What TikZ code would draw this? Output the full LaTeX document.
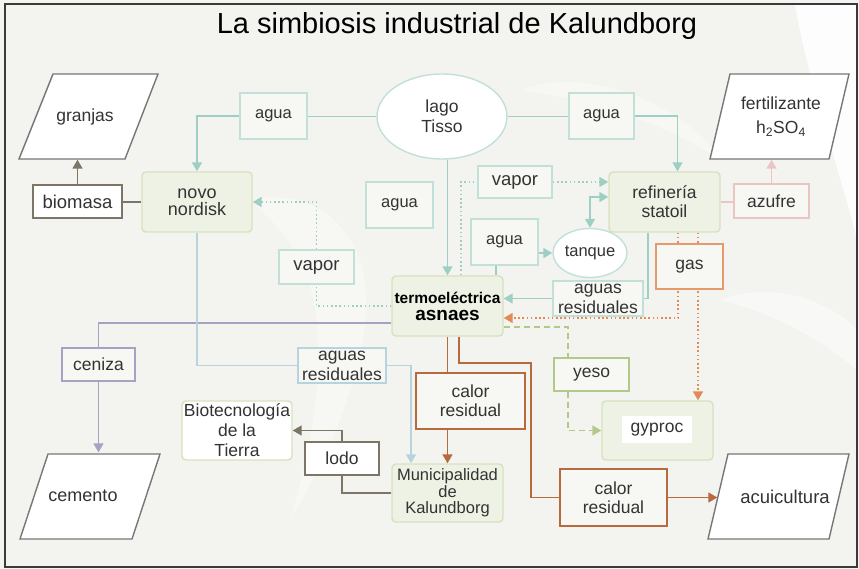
\documentclass[tikz,border=0pt]{standalone}
\usepackage{fontspec}
\setmainfont{Liberation Sans}
\usetikzlibrary{arrows.meta,shapes.geometric,calc}
\pgfdeclarelayer{back}
\pgfdeclarelayer{conn}
\pgfsetlayers{back,conn,main}
\definecolor{bgc}{HTML}{F3F4EF}
\definecolor{txt}{HTML}{333333}
\definecolor{tealln}{HTML}{9FCEC5}
\definecolor{tealbd}{HTML}{C3DFDA}
\definecolor{boxfill}{HTML}{F7F8F4}
\definecolor{greenbd}{HTML}{D6E2BE}
\definecolor{greenfill}{HTML}{EEF2E4}
\definecolor{brownln}{HTML}{B9693F}
\definecolor{orangeln}{HTML}{E38B55}
\definecolor{gasbd}{HTML}{E49A6C}
\definecolor{dkln}{HTML}{7D7566}
\definecolor{lavln}{HTML}{A3A3C2}
\definecolor{lblue}{HTML}{B6D3DE}
\definecolor{pinkln}{HTML}{E9C6C3}
\definecolor{yesoln}{HTML}{B3C98A}
\definecolor{parabd}{HTML}{777777}
\definecolor{framec}{HTML}{3A3A3A}
\begin{document}
\begin{tikzpicture}[x=1pt,y=-1pt,
  base/.style={inner sep=0pt, align=center, text=txt, line width=1.4pt,
    font=\fontsize{17.5}{19}\selectfont},
  tbox/.style={base, draw=tealbd, fill=boxfill},
  gbox/.style={base, draw=greenbd, fill=greenfill, rounded corners=4pt},
  cbox/.style={base, draw=brownln, fill=boxfill, line width=1.8pt},
  dbox/.style={base, draw=dkln, fill=white},
  ptext/.style={base},
  tip/.style={-{Triangle[length=9pt,width=10pt]}},
  conn/.style={line width=1.6pt},
  dotl/.style={conn, dash pattern=on 1.6pt off 2.6pt},
  para/.style={draw=parabd, fill=white, line width=1.4pt},
  fsa/.style={font=\fontsize{17.5}{16.5}\selectfont},
  fsb/.style={font=\fontsize{17.5}{20}\selectfont},
]
% background and frame
\begin{pgfonlayer}{back}
\fill[bgc] (0,0) rectangle (859,569);
\fill[white,opacity=0.9] (795,5) -- (857,5) -- (857,240) .. controls (840,170) and (810,90) .. (795,5) -- cycle;
\fill[white,opacity=0.35] (250,200) .. controls (300,190) and (340,210) .. (360,260) .. controls (380,320) and (350,420) .. (290,520) .. controls (320,420) and (330,320) .. (300,260) .. controls (285,230) and (265,215) .. (250,200) -- cycle;
\fill[white,opacity=0.35] (520,90) .. controls (600,60) and (700,120) .. (720,160) .. controls (660,120) and (590,100) .. (520,90) -- cycle;
\fill[white,opacity=0.45] (720,300) .. controls (770,280) and (830,300) .. (857,330) -- (857,370) .. controls (810,330) and (760,310) .. (720,300) -- cycle;
\end{pgfonlayer}
\draw[framec, line width=1.6pt] (5,4) rectangle (857,567);

% title
\node[anchor=base, text=black, font=\fontsize{29}{29}\selectfont] (title) at (457,34) {La simbiosis industrial de Kalundborg};

% parallelograms
\draw[para] (19,159) -- (53,74) -- (158,74) -- (125,159) -- cycle;
\draw[para] (710,159) -- (730,74) -- (849,74) -- (829,159) -- cycle;
\draw[para] (20,539) -- (48,454) -- (160,454) -- (132,539) -- cycle;
\draw[para] (708,539) -- (728,454) -- (849,454) -- (829,539) -- cycle;
\node[ptext, minimum width=70, minimum height=85] (granjas) at (85,116.5) {granjas};
\node[ptext, minimum width=90, minimum height=85, font=\fontsize{17.5}{24}\selectfont] (fert) at (781,116.5) {fertilizante\\h\textsubscript{2}SO\textsubscript{4}};
\node[ptext, minimum width=80, minimum height=85, font=\fontsize{18}{19}\selectfont] (cemento) at (83,495.5) {cemento};
\node[ptext, minimum width=134, minimum height=85, font=\fontsize{18.5}{19}\selectfont] (acui) at (785,496.5) {acuicultura};

% boxes
\node[tbox, minimum width=67, minimum height=46, font=\fontsize{16.5}{19}\selectfont] (aguaL) at (273.5,116) {agua};
\node[tbox, ellipse, fill=white, minimum width=130, minimum height=85, fsb] (lago) at (442,116.5) {lago\\Tisso};
\node[tbox, minimum width=65, minimum height=46, font=\fontsize{16.5}{19}\selectfont] (aguaR) at (601.5,116) {agua};
\node[dbox, minimum width=89, minimum height=33, font=\fontsize{18.5}{19}\selectfont] (biomasa) at (77.5,201.5) {biomasa};
\node[gbox, minimum width=110, minimum height=60, font=\fontsize{18}{16.5}\selectfont] (novo) at (197,202) {novo\\nordisk};
\node[tbox, minimum width=67, minimum height=46, font=\fontsize{16.5}{19}\selectfont] (aguaM) at (399.5,205) {agua};
\node[tbox, minimum width=74, minimum height=32, font=\fontsize{18.5}{19}\selectfont] (vaporT) at (515,182) {vapor};
\node[gbox, minimum width=111, minimum height=60] (ref) at (664.5,202) {refinería\\statoil};
\node[base, draw=pinkln, fill=boxfill, minimum width=75, minimum height=34] (azufre) at (771.5,201) {azufre};
\node[tbox, minimum width=75, minimum height=34, font=\fontsize{18.5}{19}\selectfont] (vaporL) at (316.5,267) {vapor};
\node[tbox, minimum width=67, minimum height=46, font=\fontsize{16.5}{19}\selectfont] (aguaC) at (504.5,242) {agua};
\node[tbox, ellipse, fill=white, minimum width=74, minimum height=49, font=\fontsize{16.5}{19}\selectfont] (tanque) at (590,253) {tanque};
\node[base, draw=gasbd, fill=boxfill, line width=1.8pt, minimum width=67, minimum height=45] (gas) at (689.5,266.5) {gas};
\node[tbox, minimum width=90, minimum height=35, fsb] (aguasR) at (598,298.5) {aguas\\residuales};
\node[gbox, minimum width=111, minimum height=60, text=black, font=\bfseries\fontsize{15.5}{17}\selectfont] (termo) at (447.5,306) {termoeléctrica\\{\fontsize{19}{19}\selectfont asnaes}};
\node[base, draw=lavln, fill=boxfill, minimum width=73, minimum height=33] (ceniza) at (98.5,364.5) {ceniza};
\node[base, draw=lblue, fill=boxfill, minimum width=88, minimum height=35, fsb] (aguasL) at (342,365.5) {aguas\\residuales};
\node[cbox, minimum width=109, minimum height=56] (calor1) at (470.5,401) {calor\\residual};
\node[base, draw=yesoln, fill=boxfill, minimum width=75, minimum height=33] (yeso) at (591.5,374.5) {yeso};
\node[gbox, minimum width=111, minimum height=59] (gyproc) at (657.5,430.5) {};
\node[base, fill=white, minimum width=70, minimum height=27] (gyproctext) at (657,429.5) {gyproc};
\node[gbox, fill=white, minimum width=110, minimum height=59, fsb] (biotec) at (237,430.5) {Biotecnología\\de la\\Tierra};
\node[dbox, minimum width=74, minimum height=33] (lodo) at (342,458.5) {lodo};
\node[gbox, minimum width=111, minimum height=58, font=\fontsize{16.5}{16.5}\selectfont] (muni) at (447.5,493) {Municipalidad\\de\\Kalundborg};
\node[cbox, minimum width=107, minimum height=57] (calor2) at (613.5,497.5) {calor\\residual};
\coordinate (bendA) at (531,363);

% connectors
\begin{pgfonlayer}{conn}
% lago Tisso
\draw[conn, tealln] (lago.west) -- (lago.west -| aguaL.east);
\draw[conn, tealln, tip] (aguaL.west) -| (novo.north);
\draw[conn, tealln] (lago.east) -- (lago.east -| aguaR.west);
\draw[conn, tealln, tip] (aguaR.east) -| ([xshift=13pt]ref.north);
\draw[conn, tealln, tip] (lago.south -| termo.north) -- (termo.north);
% biomasa
\draw[conn, dkln] (novo.west) -- (novo.west -| biomasa.east);
\draw[conn, dkln, tip] (biomasa.north) -- (biomasa.north |- granjas.south);
% azufre
\draw[conn, pinkln] (ref.east) -- (ref.east -| azufre.west);
\draw[conn, pinkln, tip] (azufre.north) -- (azufre.north |- fert.south);
% vapor
\draw[dotl, tealln] ([xshift=13.5pt]termo.north) |- (vaporT.west);
\draw[dotl, tealln, tip] (vaporT.east) -- (vaporT.east -| ref.west);
\draw[dotl, tealln] (termo.west) -| (vaporL.south);
\draw[dotl, tealln, tip] (vaporL.north) |- (novo.east);
% agua to tanque
\draw[conn, tealln, tip] (aguaC.east |- tanque.west) -- (tanque.west);
\draw[conn, tealln] ([xshift=-8.5pt]aguaC.south) -- ([xshift=-8.5pt]aguaC.south |- termo.north);
\draw[conn, tealln, {Triangle[length=9pt,width=10pt]}-{Triangle[length=9pt,width=10pt]}] (tanque.north) |- ([yshift=5pt]ref.west);
% aguas residuales right
\draw[conn, tealln] ([xshift=-16.5pt]ref.south) |- (aguasR.east);
\draw[conn, tealln, tip] (aguasR.west) -- (aguasR.west -| termo.east);
% gas
\draw[dotl, orangeln, tip] ([xshift=13.5pt]ref.south) |- ([yshift=-12pt]termo.east);
\draw[dotl, orangeln, tip] ([xshift=33.5pt]ref.south) -- ([xshift=33.5pt]ref.south |- gyproc.north);
% yeso
\draw[conn, yesoln, dash pattern=on 6pt off 4pt] ([yshift=-21pt]termo.east) -| ([xshift=-23.5pt]yeso.north);
\draw[conn, yesoln, dash pattern=on 6pt off 4pt, tip] ([xshift=-23.5pt]yeso.south) |- (gyproc.west);
% ceniza
\draw[conn, lavln] ([yshift=-17pt]termo.west) -| (ceniza.north);
\draw[conn, lavln, tip] (ceniza.south) -- (ceniza.south |- cemento.north);
% aguas residuales left
\draw[conn, lblue] (novo.south) |- (aguasL.west);
\draw[conn, lblue, tip] (aguasL.east) -| ([xshift=-36.5pt]muni.north);
% calor residual
\draw[conn, brownln] (termo.south) -- (termo.south |- calor1.north);
\draw[conn, brownln, tip] (termo.south |- calor1.south) -- (muni.north);
\draw[conn, brownln] ([xshift=11.5pt]termo.south) |- (bendA) |- (calor2.west);
\draw[conn, brownln, tip] (calor2.east) -- (calor2.east -| acui.west);
% lodo
\draw[conn, dkln] (muni.west) -| (lodo.south);
\draw[conn, dkln, tip] (lodo.north) |- (biotec.east);
\end{pgfonlayer}
\end{tikzpicture}
\end{document}
